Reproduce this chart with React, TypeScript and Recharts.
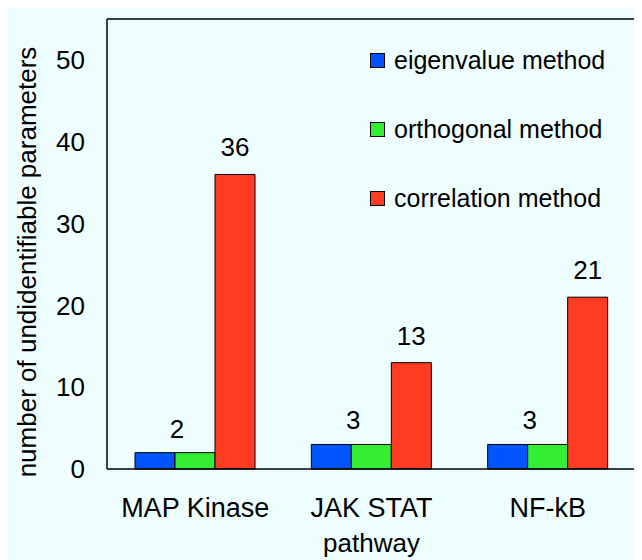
import React from 'react';
import { BarChart, Bar, XAxis, YAxis, Legend, LabelList } from 'recharts';

const pathways = ['MAP Kinase', 'JAK STAT', 'NF-kB'];
const eigenvalue = [2, 3, 3];
const orthogonal = [2, 3, 3];
const correlation = [36, 13, 21];
const yTicks = [0, 10, 20, 30, 40, 50];
const yMax = 55;
const seriesNames = ['eigenvalue method', 'orthogonal method', 'correlation method'];

const FONT = '"Liberation Sans", Arial, sans-serif';
const BG = '#eefefe';
const BLUE = '#0055ff';
const GREEN = '#33ee33';
const RED = '#ff3b22';
const seriesColors = [BLUE, GREEN, RED];

const W = 634;
const H = 552;
const M = { top: 11, right: 6, left: 0, bottom: 0 };
const Y_AXIS_W = 99;
const X_AXIS_H = 91;

const data = pathways.map((p, i) => ({
  pathway: p,
  eigen: eigenvalue[i],
  ortho: orthogonal[i],
  corr: correlation[i],
}));

// small values are written over the blue/green boundary
const PairLabel = (props: any) => {
  const { x, y, value } = props;
  return (
    <text x={x + 2} y={y - 15} textAnchor="middle" fontSize={26} fill="#000" fontFamily={FONT}>
      {value}
    </text>
  );
};

// y title, plus the top and right edges of the plot frame
const YTitle = (props: any) => {
  const vb = props.viewBox;
  const cx = vb.x + 19;
  const cy = vb.y + vb.height / 2 + 18;
  const left = vb.x + vb.width;
  const right = W - M.right;
  const top = vb.y;
  const bottom = vb.y + vb.height;
  return (
    <g>
      <path
        d={`M${left},${top}L${right},${top}L${right},${bottom}`}
        fill="none"
        stroke="#000"
        strokeWidth={1.5}
      />
      <text
        x={cx}
        y={cy}
        transform={`rotate(-90 ${cx} ${cy})`}
        textAnchor="middle"
        dominantBaseline="central"
        fontSize={26}
        fill="#000"
        fontFamily={FONT}
      >
        number of undidentifiable parameters
      </text>
    </g>
  );
};

// legend keeps the series order of the original
const LegendBox = () => (
  <div style={{ fontFamily: FONT, fontSize: 25, color: '#000' }}>
    {seriesNames.map((name, i) => (
      <div key={name} style={{ height: 69, display: 'flex', alignItems: 'center' }}>
        <span
          style={{
            display: 'inline-block',
            width: 13,
            height: 13,
            background: seriesColors[i],
            border: '1px solid #000',
            marginRight: 9,
          }}
        />
        <span>{name}</span>
      </div>
    ))}
  </div>
);

const frameLine = { stroke: '#000', strokeWidth: 1.5 };

export default function App() {
  return (
    <div style={{ width: W, height: H, background: BG, fontFamily: FONT }}>
      <BarChart width={W} height={H} data={data} margin={M} barGap={0} barSize={40}>
        <XAxis
          dataKey="pathway"
          height={X_AXIS_H}
          tickLine={false}
          tickSize={0}
          tickMargin={29}
          axisLine={frameLine}
          tick={{ fontSize: 27, fill: '#000', fontFamily: FONT }}
          label={{ value: 'pathway', position: 'insideBottom', offset: 8, fontSize: 26, fill: '#000', fontFamily: FONT }}
        />
        <YAxis
          width={Y_AXIS_W}
          domain={[0, yMax]}
          ticks={yTicks}
          interval={0}
          tickLine={false}
          tickSize={0}
          tickMargin={22}
          axisLine={frameLine}
          tick={{ fontSize: 26, fill: '#000', fontFamily: FONT }}
          label={<YTitle />}
        />
        <Legend
          layout="vertical"
          align="center"
          verticalAlign="middle"
          wrapperStyle={{ top: 18, left: 362, width: 'auto' }}
          content={<LegendBox />}
        />
        <Bar dataKey="eigen" name="eigenvalue method" fill={BLUE} stroke="#000" strokeWidth={1} isAnimationActive={false} />
        <Bar dataKey="ortho" name="orthogonal method" fill={GREEN} stroke="#000" strokeWidth={1} isAnimationActive={false}>
          <LabelList dataKey="ortho" content={<PairLabel />} />
        </Bar>
        <Bar dataKey="corr" name="correlation method" fill={RED} stroke="#000" strokeWidth={1} isAnimationActive={false}>
          <LabelList dataKey="corr" position="top" offset={18} fontSize={26} fill="#000" fontFamily={FONT} />
        </Bar>
      </BarChart>
    </div>
  );
}
